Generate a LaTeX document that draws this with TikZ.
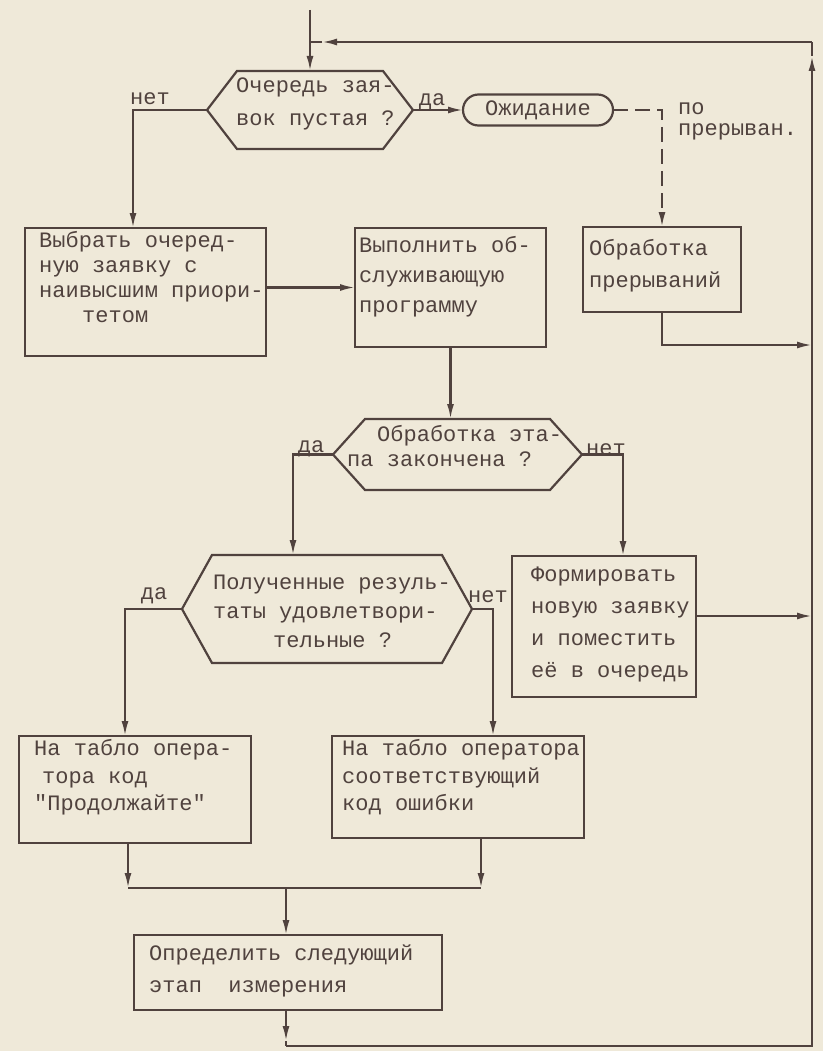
\documentclass[tikz,border=0pt]{standalone}
\usepackage{fontspec}
\setmainfont{Liberation Mono}[Ligatures=TeXOff]
\usetikzlibrary{arrows.meta,calc}
\definecolor{ink}{RGB}{80,66,62}
\definecolor{paper}{RGB}{239,233,217}
\newcommand{\hexpath}[2]{\draw[ln] (#1.west) -- ($(#1.north west)+(#2,0)$) -- ($(#1.north east)+(-#2,0)$) -- (#1.east) -- ($(#1.south east)+(-#2,0)$) -- ($(#1.south west)+(#2,0)$) -- cycle;}
\tikzset{
  ln/.style={draw=ink, line width=2.2pt, line join=miter},
  arr/.style={ln, -{Latex[length=15pt,width=7pt]}},
  boxn/.style={draw=ink, line width=2.2pt, inner sep=0pt, outer sep=0pt},
  shapen/.style={inner sep=0pt, outer sep=0pt},
  txt/.style={font=\fontsize{22}{#1}\selectfont, align=left, inner sep=0pt, text=ink, anchor=west},
  txt/.default=28,
  lbl/.style={font=\fontsize{22}{24}\selectfont, inner sep=0pt, text=ink},
}
\begin{document}
\begin{tikzpicture}[x=1pt,y=-1pt]
\fill[paper] (0,0) rectangle (823,1051);
\useasboundingbox (0,0) rectangle (823,1051);

% shapes
\node[shapen, minimum width=206pt, minimum height=78pt] (d1) at (310,110) {};
\hexpath{d1}{30}
\node[boxn, rounded corners=15.5pt, minimum width=150pt, minimum height=31pt, font=\fontsize{22}{24}\selectfont, text=ink] (w) at (538,110) {Ожидание};
\node[boxn, minimum width=241pt, minimum height=128pt] (b1) at (145.5,292) {};
\node[boxn, minimum width=191pt, minimum height=119pt] (b2) at (450.5,287.5) {};
\node[boxn, minimum width=158pt, minimum height=85pt] (b3) at (662,269.5) {};
\node[shapen, minimum width=249pt, minimum height=71pt] (d2) at (457.5,454.5) {};
\hexpath{d2}{32}
\node[shapen, minimum width=290pt, minimum height=108pt] (d3) at (327,609) {};
\hexpath{d3}{30}
\node[boxn, minimum width=184pt, minimum height=141pt] (b4) at (604,626.5) {};
\node[boxn, minimum width=232pt, minimum height=107pt] (b5) at (135,789.5) {};
\node[boxn, minimum width=252pt, minimum height=102pt] (b6) at (458,787) {};
\node[boxn, minimum width=308pt, minimum height=75pt] (b7) at (288,972.5) {};

% texts
\node[txt=33] (t1) at (236,104) {Очередь зая-\\вок пустая ?};
\node[txt=25] (tb1) at (39,277.5) {Выбрать очеред-\\ную заявку с\\наивысшим приори-\\\hspace*{43pt}тетом};
\node[txt=30] (tb2) at (359,277) {Выполнить об-\\служивающую\\программу};
\node[txt=32] (tb3) at (589,266) {Обработка\\прерываний};
\node[txt=25] (td2) at (347,446) {\hspace*{30pt}Обработка эта-\\па закончена ?};
\node[txt=29] (td3) at (213,611) {Полученные резуль-\\таты удовлетвори-\\\hspace*{60pt}тельные ?};
\node[txt=32] (tb4) at (531,624.5) {Формировать\\новую заявку\\и поместить\\её в очередь};
\node[txt=27.5] (tb5) at (34,777.5) {На табло опера-\\\hspace*{8pt}тора код\\"Продолжайте"};
\node[txt=27.5] (tb6) at (342,777.5) {На табло оператора\\соответствующий\\код ошибки};
\node[txt=32] (tb7) at (149,971) {Определить следующий\\этап\ \ измерения};

% labels
\node[lbl] (l1) at (150,99) {нет};
\node[lbl] (l2) at (432,102) {да};
\node[txt=21] (l3) at (678,121) {по\\прерыван.};
\node[lbl] (l4) at (311,449) {да};
\node[lbl] (l5) at (606,450) {нет};
\node[lbl] (l6) at (154,596) {да};
\node[lbl] (l7) at (488,597) {нет};

% coordinates
\coordinate (top) at (310,10);
\coordinate (r1) at (812,345);
\coordinate (r2) at (812,616);
\coordinate (j1) at (128,888);
\coordinate (j2) at (481,888);
\coordinate (j3) at (286,888);
\coordinate (c1) at (286,1041);
\coordinate (c2) at (286,1046);
\coordinate (c3) at (812,1046);
\coordinate (c4) at (812,56);
\coordinate (c5) at (812,42);
\coordinate (c6) at (322,42);
\coordinate (c7) at (310,42);

% connectors
\draw[arr] (top) -- (d1.north);
\draw[arr] (d1.west) -| ($(b1.north west)+(108,0)$);
\draw[arr] (d1.east) -- (w.west);
\draw[arr, dash pattern=on 15pt off 7pt] (w.east) -| (b3.north);
\draw[arr] (b1.east |- b2.west) -- (b2.west);
\draw[arr] (b3.south) |- (r1);
\draw[arr] (b2.south) -- (b2.south |- d2.north);
\draw[arr] (d2.west) -| ($(d3.north west)+(111,0)$);
\draw[arr] (d2.east) -| ($(b4.north west)+(111,0)$);
\draw[arr] (d3.west) -| ($(b5.north west)+(106,0)$);
\draw[arr] (d3.east) -| ($(b6.north west)+(161,0)$);
\draw[arr] ($(b4.north east)+(0,60)$) -- (r2);
\draw[arr] ($(b5.south west)+(109,0)$) -- (j1);
\draw[arr] ($(b6.south west)+(149,0)$) -- (j2);
\draw[ln] (j1) -- (j2);
\draw[arr] (j3) -- (j3 |- b7.north);
\draw[arr] (j3 |- b7.south) -- (c1);
\draw[ln] (c1) -- (c2);
\draw[arr] (c2) -- (c3) -- (c4);
\draw[ln] (c4) -- (c5);
\draw[arr] (c5) -- (c6);
\draw[ln] (c6) -- (c7);
\end{tikzpicture}
\end{document}
